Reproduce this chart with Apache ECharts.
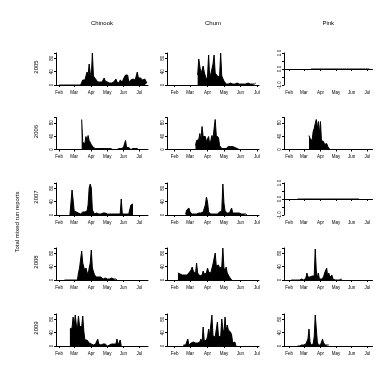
<!DOCTYPE html>
<html>
<head>
<meta charset="utf-8">
<script src="https://cdn.jsdelivr.net/npm/echarts@6/dist/echarts.min.js"></script>
<style>
html,body{margin:0;padding:0;background:#fff;}
#c{width:392px;height:392px;}
</style>
</head>
<body>
<div id="c"></div>
<script>
// ---- labels ----
const species = ["Chinook", "Chum", "Pink"];
const years = ["2005", "2006", "2007", "2008", "2009"];
const yTitle = "Total mixed run reports";
const tickLabels = ["Feb", "Mar", "Apr", "May", "Jun", "Jul"];
const monthStartDays = [31, 59, 90, 120, 151, 181]; // day of year (Jan 1 = 0)
// x categories: two-day periods from Jan 1; series start = first period index

// ---- data (reports per two-day period) ----
const chinook2005Start = 15;
const chinook2005 = [0,0,0,0,0,0,0,0,0,0,0,0,0,0,0,0,0,0,0,0,0,0,
  15,12,15,9,39,30,63,36,24,96,27,27,18,12,9,12,9,6,9,6,21,12,6,9,3,6,9,6,3,9,12,18,9,15,6,15,12,9,18,12,30,24,30,9,12,15,21,18,21,15,21,39,21,18,21,21,15,21,18,21,6];
const chinook2006Start = 36;
const chinook2006 = [90,21,21,18,39,24,42,27,24,15,9,6,3,3,0,3,6,3,6,3,0,3,0,3,6,3,6,3,3,0,3,0,0,0,3,3,6,3,3,6,6,27,6,3,6,3,0,3,3,0,3,0,3,0];
const chinook2007Start = 25;
const chinook2007 = [0,6,75,45,12,12,9,12,6,6,3,6,9,6,9,6,12,30,81,93,81,15,9,3,3,6,3,3,6,3,3,6,12,6,3,3,3,3,3,3,6,3,3,3,3,3,3,3,48,3,3,3,3,3,3,3,3,30,36,33];
const chinook2008Start = 20;
const chinook2008 = [0,0,0,0,0,0,0,0,0,0,0,0,0,
  21,36,36,87,51,45,27,36,24,15,36,51,90,36,36,15,12,9,15,9,6,9,6,3,3,6,3,3,6,3,3,6,3,3,6,3,0];
const chinook2009Start = 25;
const chinook2009 = [51,48,54,87,60,93,63,51,90,60,66,57,90,45,18,15,18,12,9,9,6,9,3,3,6,3,21,6,3,3,0,6,3,6,3,0,3,3,3,6,9,6,12,6,21,3,6,18,0];

const chum2005Start = 36;
const chum2005 = [30,78,84,33,45,57,39,36,15,27,90,21,33,27,63,90,36,30,27,24,24,96,27,27,12,6,3,6,3,3,6,3,3,6,3,3,6,3,3,6,3,3,3,6,3,3,6,3,3,6,3,3,3,6];
const chum2006Start = 34;
const chum2006 = [12,27,21,30,48,30,69,39,33,39,24,21,39,15,27,42,33,63,90,42,45,36,12,6,3,6,3,6,3,9,9,12,9,12,9,6,6,3,3,0,0,0,0,0,0,0,0,0,0,0,0,0,0,0];
const chum2007Start = 25;
const chum2007 = [3,15,9,21,9,6,3,6,3,6,3,3,6,3,6,3,9,15,30,54,39,9,6,3,6,3,9,3,6,3,6,9,12,12,93,36,12,9,6,12,6,9,21,6,9,6,12,6,3,6,3,3,3,3,3,3,0];
const chum2008Start = 18;
const chum2008 = [21,24,18,21,15,18,15,21,15,18,21,15,30,39,27,30,18,51,21,15,12,18,15,27,18,15,21,36,24,24,21,24,48,45,81,42,39,45,36,42,39,96,36,27,39,21,24,9,3,0];
const chum2009Start = 23;
const chum2009 = [3,6,3,6,21,3,6,9,6,12,6,9,12,9,15,12,21,9,57,15,21,18,27,51,33,30,93,30,33,27,30,72,30,33,27,81,51,39,87,45,63,48,51,42,33,9,6,12,0];

const pink2005Start = 36;
const pink2005 = [0,0,0,0,0,0,0,0,0,0,0,0,0,0,0,0,0,0,0,0,0,0,0,0,0,0,0,0,0,0,0,0,0,0,0,0,0,0,0,0,0,0,0,0,0,0,0,0,0,0,0,0,0,0,0,0,0];
const pink2006Start = 34;
const pink2006 = [42,33,27,27,54,63,78,90,63,84,48,84,27,21,24,15,12,18,9,3,
  0,0,0,0,0,0,0,0,0,0,0,0,0,0,0,0,0,0,0,0,0,0,0,0,0,0,0,0,0,0,0,0,0,0,0,0];
const pink2007Start = 23;
const pink2007 = [0,0,0,0,0,0,0,0,0,0,0,0,0,0,0,0,0,0,0,0,0,0,0,0,0,0,0,0,0,0,0,0,0,0,0,0,0,0,0,0,0,0,0,0,0,0,0,0,0,0,0,0,0,0,0,0,0,0,0,0];
const pink2008Start = 17;
const pink2008 = [0,0,0,0,0,0,0,0,0,0,3,0,0,0,6,21,9,12,9,15,12,15,12,93,30,6,21,3,3,3,0,9,21,15,36,9,21,9,3,15,3,3,0,3,0,3,0,0,3,0];
const pink2009Start = 23;
const pink2009 = [0,3,0,3,3,9,3,3,6,12,21,51,12,3,6,6,27,93,93,12,3,9,3,3,21,9,3,3,3,3,3];

// ---- build ----
const panels = [
  [[chinook2005, chinook2005Start], [chum2005, chum2005Start], [pink2005, pink2005Start]],
  [[chinook2006, chinook2006Start], [chum2006, chum2006Start], [pink2006, pink2006Start]],
  [[chinook2007, chinook2007Start], [chum2007, chum2007Start], [pink2007, pink2007Start]],
  [[chinook2008, chinook2008Start], [chum2008, chum2008Start], [pink2008, pink2008Start]],
  [[chinook2009, chinook2009Start], [chum2009, chum2009Start], [pink2009, pink2009Start]]
];

const FONT = '"Liberation Sans", Arial, sans-serif';
const periods = [];
for (let b = 0; b <= 100; b++) periods.push(String(b));
const tickBins = monthStartDays.map(d => Math.floor(d / 2));

const rowTops = [53, 117.5, 183, 248, 314];
const rowH = 32;
const cols = [
  {left: 56, width: 92, min: 12, max: 98},
  {left: 167, width: 92, min: 8, max: 92},
  {left: 284, width: 88.5, min: 10, max: 95}
];

const grid = [], xAxis = [], yAxis = [], series = [], graphic = [];
panels.forEach((row, r) => {
  row.forEach(([vals, start], c) => {
    const i = grid.length;
    const col = cols[c];
    grid.push({left: col.left, width: col.width, top: rowTops[r], height: rowH});
    xAxis.push({
      type: 'category', gridIndex: i, data: periods, boundaryGap: false,
      min: col.min, max: col.max, offset: 3,
      axisLine: {lineStyle: {color: '#000', width: 1}},
      axisTick: {length: 2, lineStyle: {color: '#000', width: 1},
        interval: (idx) => tickBins.includes(idx)},
      axisLabel: {fontSize: 4.5, fontFamily: FONT, color: '#000', margin: 2,
        interval: (idx) => tickBins.includes(idx),
        formatter: (v) => { const k = tickBins.indexOf(Number(v)); return k >= 0 ? tickLabels[k] : ''; }},
      splitLine: {show: false}
    });
    const allZero = vals.every(v => v === 0);
    yAxis.push(allZero ? {
      type: 'value', gridIndex: i, min: -1, max: 1, interval: 0.5,
      axisLine: {show: true, lineStyle: {color: '#000', width: 1}},
      axisTick: {show: true, length: 2, lineStyle: {color: '#000'}},
      axisLabel: {rotate: 90, fontSize: 4.5, fontFamily: FONT, color: '#000', margin: 2,
        formatter: (v) => (Math.abs(v) === 1 || v === 0 ? Number(v).toFixed(1) : '')},
      splitLine: {show: false}
    } : {
      type: 'value', gridIndex: i, min: 0, max: 96, interval: 40,
      axisLine: {show: true, lineStyle: {color: '#000', width: 1}},
      axisTick: {show: true, length: 2, lineStyle: {color: '#000'}},
      axisLabel: {rotate: 90, fontSize: 4.5, fontFamily: FONT, color: '#000', margin: 2,
        formatter: (v) => (v % 40 === 0 ? String(v) : '')},
      splitLine: {show: false}
    });
    series.push({
      type: 'line', xAxisIndex: i, yAxisIndex: i,
      data: vals.map((v, k) => [start + k, v]),
      showSymbol: false, symbol: 'none', silent: true,
      lineStyle: {color: '#000', width: 1},
      areaStyle: allZero ? undefined : {color: '#000', opacity: 1},
      animation: false
    });
  });
  graphic.push({type: 'text', x: 36, y: rowTops[r] + rowH / 2 - 2, rotation: Math.PI / 2,
    style: {text: years[r], font: '6px ' + FONT, fill: '#000', textAlign: 'center', textVerticalAlign: 'middle'}});
});
species.forEach((s, c) => {
  graphic.push({type: 'text', x: cols[c].left + cols[c].width / 2, y: 23,
    style: {text: s, font: '6px ' + FONT, fill: '#000', textAlign: 'center', textVerticalAlign: 'middle'}});
});
graphic.push({type: 'text', x: 17, y: 222, rotation: Math.PI / 2,
  style: {text: yTitle, font: '6px ' + FONT, fill: '#000', textAlign: 'center', textVerticalAlign: 'middle'}});

const chart = echarts.init(document.getElementById('c'), null, {renderer: 'canvas'});
chart.setOption({
  animation: false,
  backgroundColor: '#fff',
  grid, xAxis, yAxis, series, graphic
});
</script>
</body>
</html>
